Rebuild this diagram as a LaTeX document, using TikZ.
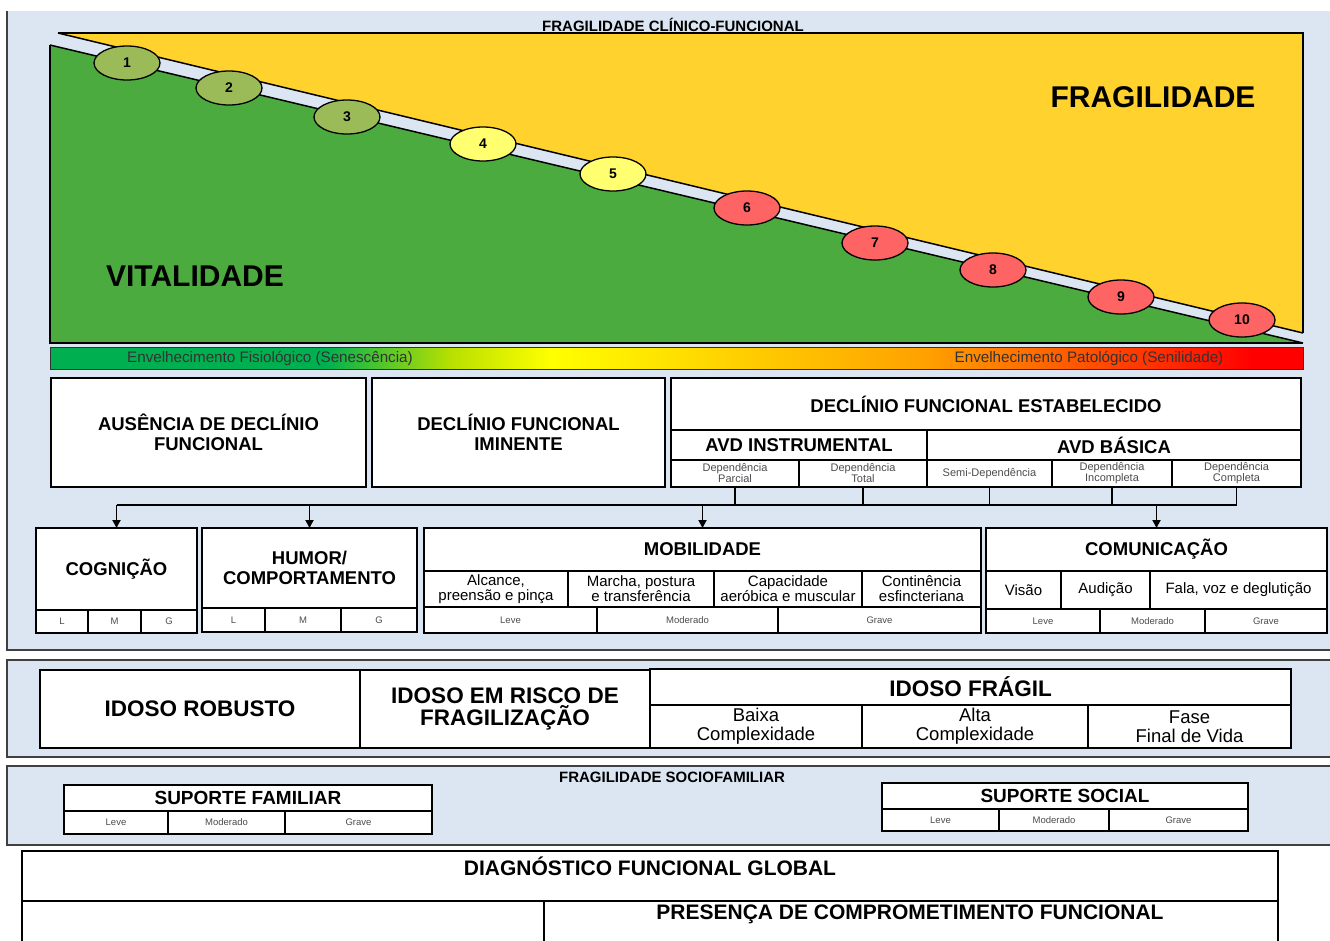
\documentclass[tikz,border=0pt]{standalone}
\usepackage{fontspec}
\setmainfont{Liberation Sans}
\usetikzlibrary{arrows.meta,shapes.geometric}
\definecolor{panelbg}{HTML}{DCE6F2}
\definecolor{pborder}{HTML}{404040}
\definecolor{vgreen}{HTML}{4CAB3E}
\definecolor{fyellow}{HTML}{FFD22E}
\definecolor{olive}{HTML}{9BBB59}
\definecolor{lyellow}{HTML}{FFFF70}
\definecolor{lred}{HTML}{FF6464}
\definecolor{bgreen}{HTML}{00B050}
\definecolor{ygreen}{HTML}{B8E000}
\definecolor{byellow}{HTML}{FFFF00}
\definecolor{borange}{HTML}{FFA000}
\definecolor{bred}{HTML}{FF0000}
\pgfdeclarehorizontalshading{agebar}{100bp}{color(0bp)=(bgreen); color(25bp)=(bgreen); color(36bp)=(bgreen); color(41bp)=(ygreen); color(45bp)=(byellow); color(60bp)=(borange); color(73bp)=(bred); color(100bp)=(bred)}
\newcommand\fTitle{\bfseries\fontsize{15}{17}\selectfont}
\newcommand\fBig{\bfseries\fontsize{30}{32}\selectfont}
\newcommand\fHead{\bfseries\fontsize{18.5}{19.5}\selectfont}
\newcommand\fSub{\fontsize{15}{15}\selectfont}
\newcommand\fTiny{\fontsize{11}{11}\selectfont}
\newcommand\fMini{\fontsize{9.5}{10}\selectfont}
\newcommand\fIdoso{\bfseries\fontsize{22.5}{22.5}\selectfont}
\newcommand\fCx{\fontsize{18.5}{19}\selectfont}
\newcommand\fSup{\bfseries\fontsize{19}{20}\selectfont}
\newcommand\fDiag{\bfseries\fontsize{21}{23}\selectfont}
\newcommand\fBar{\fontsize{15.2}{16}\selectfont}
\newcommand\mkcell[7][]{\node[cellst,#1,minimum width={#5-#3},minimum height={#6-#4}] (#2) at ({(#3+#5)/2},{(#4+#6)/2}) {#7};}
\begin{document}
\begin{tikzpicture}[x=1pt,y=-1pt,
  cellst/.style={draw=black,line width=1.6,fill=white,inner sep=0pt,outer sep=0pt,align=center,text=black},
  thick cell/.style={line width=2.4},
  ell/.style={ellipse,draw=black,line width=1.3,minimum width=66,minimum height=34,inner sep=0pt,font=\bfseries\fontsize{14}{16}\selectfont},
  conn/.style={draw=black,line width=1.8},
  tip/.style={-{Triangle[length=8pt,width=8pt]}},
  panel/.style={fill=panelbg},
  pline/.style={draw=pborder,line width=2.2},
  small/.style={text=black!70}]
\useasboundingbox (0,0) rectangle (1330,940);
\fill[white] (0,0) rectangle (1330,940);
% ---------- panels ----------
\fill[panel] (7,11) rectangle (1340,650);
\draw[pline] (7,11) -- (7,650) -- (1340,650);
\filldraw[panel,pline] (7,660) rectangle (1340,757);
\filldraw[panel,pline] (7,766) rectangle (1340,845);
% ---------- chart ----------
\node[font=\fTitle] (ttl) at (673,25) {FRAGILIDADE CLÍNICO-FUNCIONAL};
\fill[fyellow] (58,33) -- (1303,33) -- (1303,333) -- cycle;
\fill[vgreen] (50,45) -- (1303,343) -- (50,343) -- cycle;
\fill[panelbg] (58,33) -- (1303,333) -- (1303,343) -- (50,45) -- cycle;
\draw[line width=1.5] (58,33) -- (1303,333);
\draw[line width=1.5] (50,45) -- (1303,343);
\draw[line width=2.4] (58,33) -- (1303,33) -- (1303,333);
\draw[line width=2.4] (50,45) -- (50,343) -- (1303,343);
\node[font=\fBig] (frag) at (1153,97) {FRAGILIDADE};
\node[font=\fBig] (vital) at (195,276) {VITALIDADE};
\node[ell,fill=olive] (e1) at (127,63) {1};
\node[ell,fill=olive] (e2) at (229,88) {2};
\node[ell,fill=olive] (e3) at (347,117) {3};
\node[ell,fill=lyellow] (e4) at (483,144) {4};
\node[ell,fill=lyellow] (e5) at (613,174) {5};
\node[ell,fill=lred] (e6) at (747,208) {6};
\node[ell,fill=lred] (e7) at (875,243) {7};
\node[ell,fill=lred] (e8) at (993,270) {8};
\node[ell,fill=lred] (e9) at (1121,297) {9};
\node[ell,fill=lred] (e10) at (1242,320) {10};
% ---------- gradient bar ----------
\shadedraw[shading=agebar,draw=black!80,line width=0.8] (50,347) rectangle (1303,369);
\node[font=\fBar,text=black!80] (senes) at (270,358) {Envelhecimento Fisiológico (Senescência)};
\node[font=\fBar,text=black!80] (senil) at (1089,358) {Envelhecimento Patológico (Senilidade)};
% ---------- decline boxes ----------
\mkcell[font=\fHead]{aus}{51}{378}{366}{487}{AUSÊNCIA DE DECLÍNIO\\FUNCIONAL}
\mkcell[font=\fHead]{imi}{372}{378}{665}{487}{DECLÍNIO FUNCIONAL\\IMINENTE}
\mkcell[font=\fHead]{est}{671}{378}{1301}{487}{}
\mkcell[font=\fHead]{esth}{671}{378}{1301}{430}{DECLÍNIO FUNCIONAL ESTABELECIDO}
\mkcell[font=\fHead]{avdi}{671}{430}{927}{460}{AVD INSTRUMENTAL}
\mkcell[font=\fHead]{avdb}{927}{430}{1301}{460}{AVD BÁSICA}
\mkcell[font=\fTiny,small]{dp}{671}{460}{799}{487}{Dependência\\Parcial}
\mkcell[font=\fTiny,small]{dt}{799}{460}{927}{487}{Dependência\\Total}
\mkcell[font=\fTiny,small]{sd}{927}{460}{1052}{487}{Semi-Dependência}
\mkcell[font=\fTiny,small]{di}{1052}{460}{1172}{487}{Dependência\\Incompleta}
\mkcell[font=\fTiny,small]{dc}{1172}{460}{1301}{487}{Dependência\\Completa}
% ---------- domains ----------
\mkcell[font=\fHead]{cog}{36}{528}{197}{610}{COGNIÇÃO}
\mkcell[font=\fMini,small]{cogl}{36}{610}{88}{633}{L}
\mkcell[font=\fMini,small]{cogm}{88}{610}{141}{633}{M}
\mkcell[font=\fMini,small]{cogg}{141}{610}{197}{633}{G}
\mkcell[font=\fHead]{hum}{202}{528}{417}{608}{HUMOR/\\COMPORTAMENTO}
\mkcell[font=\fMini,small]{huml}{202}{608}{265}{632}{L}
\mkcell[font=\fMini,small]{humm}{265}{608}{341}{632}{M}
\mkcell[font=\fMini,small]{humg}{341}{608}{417}{632}{G}
\mkcell[font=\fHead]{mob}{424}{528}{981}{571}{MOBILIDADE}
\mkcell[font=\fSub]{moba}{424}{571}{568}{607}{Alcance,\\preensão e pinça}
\mkcell[font=\fSub]{mobm}{568}{571}{714}{607}{Marcha, postura\\e transferência}
\mkcell[font=\fSub]{mobc}{714}{571}{862}{607}{Capacidade\\aeróbica e muscular}
\mkcell[font=\fSub]{mobe}{862}{571}{981}{607}{Continência\\esfincteriana}
\mkcell[font=\fMini,small]{mobl}{424}{607}{597}{633}{Leve}
\mkcell[font=\fMini,small]{mobo}{597}{607}{778}{633}{Moderado}
\mkcell[font=\fMini,small]{mobg}{778}{607}{981}{633}{Grave}
\mkcell[font=\fHead]{com}{986}{528}{1327}{571}{COMUNICAÇÃO}
\mkcell[font=\fSub]{comv}{986}{571}{1061}{609}{Visão}
\mkcell[font=\fSub]{coma}{1061}{571}{1150}{609}{Audição}
\mkcell[font=\fSub]{comf}{1150}{571}{1327}{609}{Fala, voz e deglutição}
\mkcell[font=\fMini,small]{coml}{986}{609}{1100}{633}{Leve}
\mkcell[font=\fMini,small]{como}{1100}{609}{1205}{633}{Moderado}
\mkcell[font=\fMini,small]{comg}{1205}{609}{1327}{633}{Grave}
% ---------- connectors ----------
\coordinate (bus) at (0,505);
\draw[conn] (bus -| cog.north) -- (bus -| dc.south);
\foreach \c in {dp,dt,sd,di,dc} {\draw[conn] (\c.south) -- (\c.south |- bus);}
\foreach \c in {cog,hum,mob,com} {\draw[conn,tip] (\c.north |- bus) -- (\c.north);}
% ---------- idoso ----------
\mkcell[font=\fIdoso]{rob}{40}{670}{360}{748}{IDOSO ROBUSTO}
\mkcell[font=\fIdoso]{ris}{360}{670}{650}{748}{IDOSO EM RISCO DE\\FRAGILIZAÇÃO}
\mkcell[font=\fIdoso,thick cell]{fra}{650}{669}{1291}{705}{IDOSO FRÁGIL}
\mkcell[font=\fCx,thick cell]{frb}{650}{705}{862}{748}{Baixa\\Complexidade}
\mkcell[font=\fCx,thick cell]{fral}{862}{705}{1088}{748}{Alta\\Complexidade}
\mkcell[font=\fCx,thick cell]{frf}{1088}{705}{1291}{748}{Fase\\Final de Vida}
% ---------- sociofamiliar ----------
\node[font=\fTitle] (socttl) at (672,777) {FRAGILIDADE SOCIOFAMILIAR};
\mkcell[font=\fSup]{supf}{64}{785}{432}{811}{SUPORTE FAMILIAR}
\mkcell[font=\fMini,small]{supfl}{64}{811}{168}{834}{Leve}
\mkcell[font=\fMini,small]{supfm}{168}{811}{285}{834}{Moderado}
\mkcell[font=\fMini,small]{supfg}{285}{811}{432}{834}{Grave}
\mkcell[font=\fSup]{sups}{882}{783}{1248}{809}{SUPORTE SOCIAL}
\mkcell[font=\fMini,small]{supsl}{882}{809}{999}{831}{Leve}
\mkcell[font=\fMini,small]{supsm}{999}{809}{1109}{831}{Moderado}
\mkcell[font=\fMini,small]{supsg}{1109}{809}{1248}{831}{Grave}
% ---------- diagnostico ----------
\mkcell[thick cell]{dfg}{22}{851}{1278}{901}{}
\mkcell[thick cell]{dleft}{22}{901}{544}{962}{}
\mkcell[thick cell]{dright}{544}{901}{1278}{962}{}
\node[font=\fDiag] (dfgt) at (650,866) {DIAGNÓSTICO FUNCIONAL GLOBAL};
\node[font=\fDiag] (drt) at (910,914) {PRESENÇA DE COMPROMETIMENTO FUNCIONAL};
\end{tikzpicture}
\end{document}
